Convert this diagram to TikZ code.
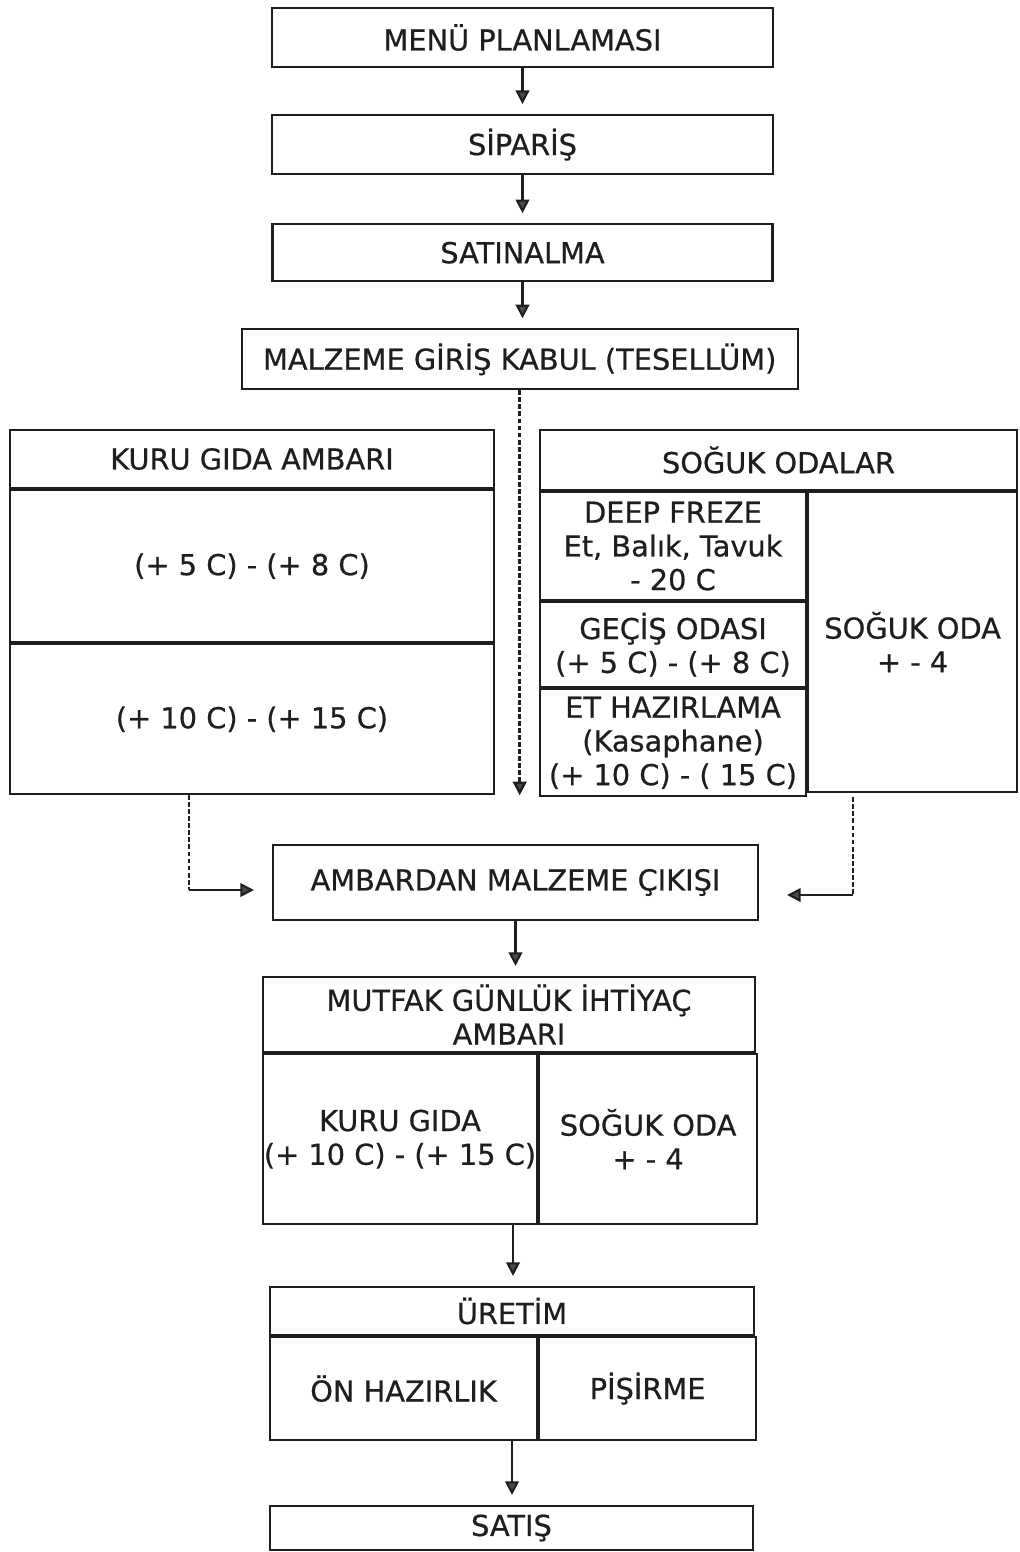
\documentclass[tikz,border=0pt]{standalone}
\usepackage{fontspec}
\setmainfont[FakeBold=0.6]{DejaVu Sans}
\usepackage{tikz}
\usetikzlibrary{positioning,arrows.meta,calc}
\usepackage{xcolor}
\definecolor{ink}{HTML}{1E1E1E}
\definecolor{tipgray}{HTML}{4A4A4A}

\begin{document}
\begin{tikzpicture}[
    node distance=1.15cm,
    kutu/.style={rectangle, draw=ink, line width=1.5pt, inner sep=0pt, align=center, text=ink, font=\fontsize{20.5}{24}\selectfont},
    hucre/.style={kutu, anchor=north west},
    ok/.style={-{Triangle[length=0.34cm,width=0.34cm,fill=tipgray]}, line width=1.5pt, draw=ink, shorten >=0.25cm},
    kesik/.style={line width=1.8pt, draw=ink, dash pattern=on 3.5pt off 1.5pt},
    kesikok/.style={kesik, -{Triangle[length=0.34cm,width=0.34cm,fill=tipgray]}}
]
\useasboundingbox (0,0) rectangle (25.475,-38.8);

\node[kutu, minimum width=12.525cm, minimum height=1.475cm] (menu) at (13.0625,-0.9375) {MENÜ PLANLAMASI};
\node[kutu, minimum width=12.525cm, minimum height=1.475cm, below=of menu] (siparis) {SİPARİŞ};
\node[kutu, minimum width=12.5cm, minimum height=1.425cm, below=1.2cm of siparis] (satin) {SATINALMA};
\node[kutu, minimum width=13.9cm, minimum height=1.5cm, below=of satin, xshift=-0.07cm] (kabul) {MALZEME GİRİŞ KABUL (TESELLÜM)};

\node[kutu, minimum width=12.1cm, minimum height=1.45cm] (kurubas) at (6.3,-11.475) {KURU GIDA AMBARI};
\node[kutu, minimum width=12.1cm, minimum height=3.8cm, below=0cm of kurubas] (kuru1) {(+ 5 C) - (+ 8 C)};
\node[kutu, minimum width=12.1cm, minimum height=3.75cm, below=0cm of kuru1] (kuru2) {(+ 10 C) - (+ 15 C)};

\node[kutu, minimum width=11.925cm, minimum height=1.5cm] (sogukbas) at (19.4625,-11.5) {SOĞUK ODALAR};
\node[hucre, minimum width=6.65cm, minimum height=2.7cm] (deep) at (sogukbas.south west) {DEEP FREZE\\Et, Balık, Tavuk\\- 20 C};
\node[kutu, minimum width=6.65cm, minimum height=2.125cm, below=0cm of deep] (gecis) {GEÇİŞ ODASI\\(+ 5 C) - (+ 8 C)};
\node[kutu, minimum width=6.65cm, minimum height=2.675cm, below=0cm of gecis] (ethaz) {ET HAZIRLAMA\\(Kasaphane)\\(+ 10 C) - ( 15 C)};
\node[hucre, minimum width=5.225cm, minimum height=7.5cm] (sogukoda) at (deep.north east) {SOĞUK ODA\\+ - 4};

\node[kutu, minimum width=12.125cm, minimum height=1.875cm] (cikis) at (12.8875,-22.0625) {AMBARDAN MALZEME ÇIKIŞI};

\node[kutu, minimum width=12.3cm, minimum height=1.875cm] (mutfak) at (12.725,-25.3625) {MUTFAK GÜNLÜK İHTİYAÇ\\AMBARI};
\node[hucre, minimum width=6.85cm, minimum height=4.25cm] (mkuru) at (mutfak.south west) {KURU GIDA\\(+ 10 C) - (+ 15 C)};
\node[hucre, minimum width=5.45cm, minimum height=4.25cm] (msoguk) at (mkuru.north east) {SOĞUK ODA\\+ - 4};

\node[kutu, minimum width=12.1cm, minimum height=1.2cm] (uretim) at (12.8,-32.775) {ÜRETİM};
\node[hucre, minimum width=6.675cm, minimum height=2.575cm] (onhaz) at (uretim.south west) {ÖN HAZIRLIK};
\node[hucre, minimum width=5.425cm, minimum height=2.575cm] (pisirme) at (onhaz.north east) {PİŞİRME};

\node[kutu, minimum width=12.075cm, minimum height=1.1cm] (satis) at (12.7875,-38.2) {SATIŞ};

\draw[ok] (menu.south) -- (menu.south |- siparis.north);
\draw[ok] (siparis.south) -- (siparis.south |- satin.north);
\draw[ok] (satin.south) -- (satin.south |- kabul.north);
\draw[kesikok] (kabul.south) -- (kabul.south |- kuru2.south);

\coordinate (solkose) at (4.725,-22.25);
\coordinate (sagkose) at (21.325,-22.375);
\draw[kesik] (solkose |- kuru2.south) -- (solkose);
\draw[ok, shorten >=0.45cm] (solkose) -- (solkose -| cikis.west);
\draw[kesik] (sagkose |- ethaz.south) -- (sagkose);
\draw[ok, shorten >=0.7cm] (sagkose) -- (sagkose -| cikis.east);

\draw[ok] (cikis.south) -- (cikis.south |- mutfak.north);
\draw[ok] ([xshift=0.1cm]mutfak.south |- mkuru.south) -- ([xshift=0.1cm]mutfak.south |- uretim.north);
\draw[ok] (uretim.south |- onhaz.south) -- (uretim.south |- satis.north);
\end{tikzpicture}
\end{document}
